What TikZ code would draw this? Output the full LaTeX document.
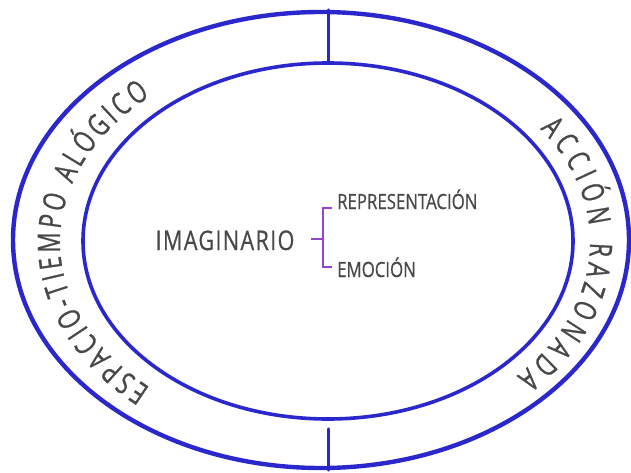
\documentclass[tikz,border=0pt]{standalone}
\usepackage{fontspec}
\usetikzlibrary{shapes.geometric,decorations.text}
\newfontfamily\hand[FakeStretch=0.8,FakeBold=0.6]{Open Sans}
\newfontfamily\handring[FakeStretch=0.72,FakeBold=0.8]{Open Sans}
\definecolor{ringblue}{RGB}{42,40,205}
\definecolor{brk}{RGB}{150,70,205}
\definecolor{txt}{RGB}{72,72,72}
\newcommand\myringfont{\handring\fontsize{31}{31}\selectfont\color{txt}}
\tikzset{
  ring/.style={ellipse, draw=ringblue, inner sep=0pt},
  divider/.style={draw=ringblue, line width=3pt, line cap=round},
  lbl/.style={inner sep=0pt, text=txt, font=\hand},
  bracketline/.style={draw=brk, line width=2.8pt},
  ringtext/.style={font=\myringfont, text=txt, decorate},
}
\begin{document}
\begin{tikzpicture}[x=1pt,y=1pt]
\useasboundingbox[fill=white] (0,0) rectangle (631,472);
% rings
\node[ring, line width=4.4pt, minimum width=616pt, minimum height=456pt] (outer) at (321,232) {};
\node[ring, line width=3.6pt, minimum width=490pt, minimum height=356pt] (inner) at (328,231) {};
% dividers
\draw[divider] (inner.north) -- (inner.north |- outer.north);
\draw[divider] ([yshift=-8pt]inner.south) -- (inner.south |- outer.south);
% curved labels
\path[ringtext, decoration={text along path, text align=fit to path, raise=-11pt,
  text={|\myringfont|ESPACIO-TIEMPO ALÓGICO}}]
  (325,230) ++(229:276pt and 205pt) arc[start angle=229, end angle=131, x radius=276pt, y radius=205pt];
\path[ringtext, decoration={text along path, text align=fit to path, raise=-11pt,
  text={|\myringfont|ACCIÓN RAZONADA}}]
  (325,230) ++(36:276pt and 205pt) arc[start angle=36, end angle=-44, x radius=276pt, y radius=205pt];
% centre texts
\node[lbl, anchor=base, font=\hand\fontsize{27}{27}\selectfont\addfontfeature{LetterSpace=5}] (imag) at (225,222) {IMAGINARIO};
\node[lbl, anchor=base west, font=\hand\fontsize{21}{21}\selectfont] (rep) at (337,263) {REPRESENTACIÓN};
\node[lbl, anchor=base west, font=\hand\fontsize{21}{21}\selectfont] (emo) at (337,195) {EMOCIÓN};
% bracket
\coordinate (bt) at (332,264);
\coordinate (bb) at (332,205);
\coordinate (bm) at (311,233);
\draw[bracketline] (bt) -- (323,264) -- (323,205) -- (bb);
\draw[bracketline] (bm) -- (323,233);
\end{tikzpicture}
\end{document}
